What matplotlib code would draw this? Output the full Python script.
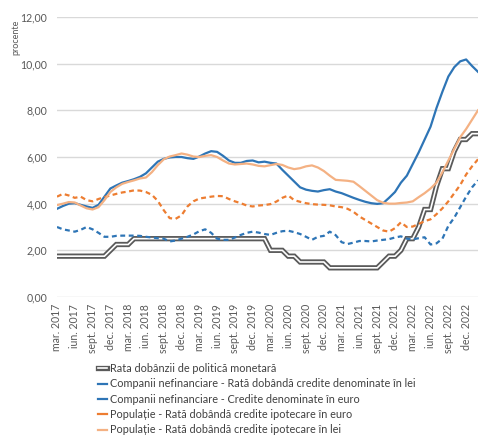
import matplotlib
matplotlib.use("Agg")
import matplotlib.pyplot as plt
from matplotlib.lines import Line2D
import numpy as np

plt.rcParams['font.family'] = ['Lato', 'DejaVu Sans']

# monthly data, mar. 2017 .. feb. 2023
start_year = 2017
quarter_months = ['mar.', 'iun.', 'sept.', 'dec.']

policy_rate = [1.75, 1.75, 1.75, 1.75, 1.75, 1.75, 1.75, 1.75, 1.75, 2.0,
               2.25, 2.25, 2.25, 2.5, 2.5, 2.5, 2.5, 2.5, 2.5, 2.5,
               2.5, 2.5, 2.5, 2.5, 2.5, 2.5, 2.5, 2.5, 2.5, 2.5,
               2.5, 2.5, 2.5, 2.5, 2.5, 2.5, 2.0, 2.0, 2.0, 1.75,
               1.75, 1.5, 1.5, 1.5, 1.5, 1.5, 1.25, 1.25, 1.25, 1.25,
               1.25, 1.25, 1.25, 1.25, 1.25, 1.5, 1.75, 1.75, 2.0, 2.5,
               2.5, 3.0, 3.75, 3.75, 4.75, 5.5, 5.5, 6.25, 6.75, 6.75,
               7.0, 7.0]

comp_lei = [3.78, 3.9, 4.0, 4.02, 3.95, 3.88, 3.82, 3.95, 4.3, 4.65,
            4.78, 4.9, 4.97, 5.05, 5.15, 5.3, 5.55, 5.8, 5.92, 5.98,
            6.0, 6.0, 5.95, 5.92, 6.02, 6.15, 6.25, 6.22, 6.05, 5.85,
            5.75, 5.75, 5.83, 5.85, 5.77, 5.8, 5.75, 5.72, 5.45, 5.2,
            4.95, 4.7, 4.6, 4.55, 4.52, 4.58, 4.62, 4.52, 4.45, 4.35,
            4.25, 4.16, 4.08, 4.02, 3.99, 4.02, 4.25, 4.5, 4.9, 5.2,
            5.7, 6.2, 6.75, 7.3, 8.1, 8.8, 9.45, 9.85, 10.1, 10.18,
            9.9, 9.65]

comp_euro = [3.0, 2.9, 2.85, 2.8, 2.88, 3.0, 2.9, 2.75, 2.58, 2.58,
             2.62, 2.63, 2.63, 2.63, 2.62, 2.58, 2.55, 2.52, 2.5, 2.38,
             2.42, 2.5, 2.58, 2.68, 2.82, 2.9, 2.75, 2.5, 2.45, 2.45,
             2.55, 2.66, 2.75, 2.8, 2.76, 2.7, 2.66, 2.75, 2.82, 2.84,
             2.78, 2.7, 2.58, 2.45, 2.58, 2.62, 2.8, 2.65, 2.35, 2.27,
             2.33, 2.4, 2.4, 2.38, 2.42, 2.45, 2.48, 2.55, 2.6, 2.5,
             2.47, 2.52, 2.56, 2.25, 2.3, 2.5, 3.05, 3.4, 3.85, 4.3,
             4.7, 5.0]

pop_euro = [4.3, 4.42, 4.35, 4.25, 4.3, 4.15, 4.1, 4.2, 4.28, 4.35,
            4.42, 4.48, 4.52, 4.57, 4.56, 4.5, 4.38, 4.12, 3.72, 3.38,
            3.35, 3.5, 3.88, 4.1, 4.22, 4.26, 4.3, 4.33, 4.32, 4.2,
            4.1, 4.02, 3.92, 3.88, 3.92, 3.94, 3.98, 4.09, 4.25, 4.35,
            4.15, 4.08, 4.02, 3.98, 3.96, 3.95, 3.93, 3.88, 3.85, 3.78,
            3.65, 3.45, 3.3, 3.15, 3.0, 2.85, 2.8, 2.95, 3.2, 3.0,
            3.02, 3.13, 3.25, 3.33, 3.55, 3.8, 4.1, 4.45, 4.8, 5.25,
            5.6, 5.9]

pop_lei = [3.94, 4.0, 4.07, 4.05, 3.92, 3.8, 3.75, 3.85, 4.15, 4.5,
           4.7, 4.85, 4.93, 5.0, 5.08, 5.12, 5.35, 5.65, 5.9, 6.02,
           6.08, 6.15, 6.1, 6.02, 6.0, 6.05, 6.08, 6.0, 5.85, 5.72,
           5.68, 5.7, 5.72, 5.68, 5.62, 5.6, 5.65, 5.7, 5.66, 5.55,
           5.48, 5.52, 5.6, 5.64, 5.55, 5.4, 5.2, 5.02, 5.0, 4.98,
           4.94, 4.75, 4.55, 4.35, 4.15, 4.04, 4.0, 4.0, 4.03, 4.05,
           4.1, 4.28, 4.45, 4.65, 4.9, 5.35, 5.85, 6.35, 6.85, 7.2,
           7.6, 8.0]

labels = ['Rata dobânzii de politică monetară',
          'Companii nefinanciare - Rată dobândă credite denominate în lei',
          'Companii nefinanciare - Credite denominate în euro',
          'Populație - Rată dobândă credite ipotecare în euro',
          'Populație - Rată dobândă credite ipotecare în lei']

BLUE = '#2E75B6'
ORANGE = '#ED7D31'
LIGHT_ORANGE = '#F4B183'
GRAY = '#5a5a5a'
TEXT = '#595959'


def main():
    x = np.arange(len(policy_rate))

    fig = plt.figure(figsize=(4.79, 4.38), dpi=100)
    ax = fig.add_axes([57 / 479, 1 - 297 / 438, (478 - 57) / 479, 280 / 438])

    ax.plot(x, policy_rate, color=GRAY, lw=3.8, solid_joinstyle='miter')
    ax.plot(x, policy_rate, color='white', lw=1.2, solid_joinstyle='miter')
    ax.plot(x, comp_lei, color=BLUE, lw=1.6)
    ax.plot(x, comp_euro, color=BLUE, lw=1.6, linestyle=(0, (2.2, 1.6)))
    ax.plot(x, pop_euro, color=ORANGE, lw=1.6, linestyle=(0, (2.2, 1.6)))
    ax.plot(x, pop_lei, color=LIGHT_ORANGE, lw=1.6)

    ax.set_xlim(0, len(x) - 1)
    ax.set_ylim(0, 12)
    ax.set_yticks(np.arange(0, 13, 2))
    ax.set_yticklabels(['{:.2f}'.format(v).replace('.', ',') for v in np.arange(0, 13, 2)])
    ax.grid(axis='y', color='#d9d9d9', lw=1)
    ax.set_axisbelow(True)

    ticks = np.arange(0, len(x), 3)
    tick_labels = ['{} {}'.format(quarter_months[k % 4], start_year + k // 4) for k in range(len(ticks))]
    ax.set_xticks(ticks)
    ax.set_xticklabels(tick_labels, rotation=90)

    ax.tick_params(axis='both', length=0, labelsize=7.6, colors=TEXT)
    ax.tick_params(axis='y', pad=7)
    ax.tick_params(axis='x', pad=5)
    for s in ax.spines.values():
        s.set_visible(False)

    fig.text(16 / 479, 1 - 37 / 438, 'procente', rotation=90, fontsize=6.5,
             color=TEXT, ha='center', va='center')

    handles = [(Line2D([], [], color=GRAY, lw=3.8), Line2D([], [], color='white', lw=1.2)),
               Line2D([], [], color=BLUE, lw=1.6),
               Line2D([], [], color=BLUE, lw=1.6),
               Line2D([], [], color=ORANGE, lw=1.6),
               Line2D([], [], color=LIGHT_ORANGE, lw=1.6)]
    leg = fig.legend(handles, labels, loc='upper left', bbox_to_anchor=(98 / 479, 1 - 363 / 438),
                     frameon=False, fontsize=7.8, handlelength=0.8, handletextpad=0.35,
                     labelspacing=0.4, borderaxespad=0, borderpad=0)
    for t in leg.get_texts():
        t.set_color('#404040')

    fig.savefig('out.png', dpi=100)


if __name__ == '__main__':
    main()
